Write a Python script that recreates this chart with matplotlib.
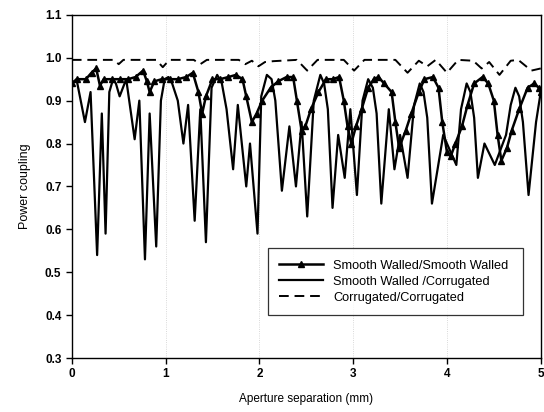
import matplotlib
matplotlib.use('Agg')
import matplotlib.pyplot as plt
import numpy as np

plt.rcParams['font.family'] = ['Liberation Sans', 'DejaVu Sans']

# Smooth Walled / Smooth Walled (triangles)
x_ss = [0.00, 0.06, 0.15, 0.21, 0.26, 0.30, 0.34, 0.43, 0.51, 0.60, 0.68, 0.76,
        0.80, 0.83, 0.88, 0.96, 1.05, 1.13, 1.22, 1.29, 1.35, 1.39, 1.43, 1.50,
        1.58, 1.67, 1.75, 1.82, 1.86, 1.92, 1.97, 2.03, 2.12, 2.20, 2.29, 2.36,
        2.40, 2.45, 2.49, 2.55, 2.63, 2.71, 2.78, 2.85, 2.90, 2.94, 2.98, 3.03,
        3.09, 3.16, 3.22, 3.27, 3.33, 3.41, 3.45, 3.49, 3.56, 3.62, 3.70, 3.76,
        3.85, 3.91, 3.95, 4.00, 4.04, 4.09, 4.16, 4.22, 4.29, 4.38, 4.44, 4.50,
        4.54, 4.58, 4.64, 4.69, 4.77, 4.86, 4.93, 4.98, 5.00]
y_ss = [0.94, 0.95, 0.95, 0.965, 0.975, 0.935, 0.95, 0.95, 0.95, 0.95, 0.955, 0.97,
        0.945, 0.92, 0.945, 0.95, 0.95, 0.95, 0.955, 0.965, 0.92, 0.87, 0.91, 0.95,
        0.95, 0.955, 0.96, 0.95, 0.91, 0.85, 0.87, 0.90, 0.93, 0.945, 0.955, 0.955,
        0.90, 0.83, 0.84, 0.88, 0.92, 0.95, 0.95, 0.955, 0.90, 0.84, 0.80, 0.84,
        0.88, 0.93, 0.95, 0.955, 0.94, 0.92, 0.85, 0.79, 0.83, 0.87, 0.92, 0.95,
        0.955, 0.93, 0.85, 0.78, 0.77, 0.80, 0.84, 0.89, 0.94, 0.955, 0.94, 0.90,
        0.82, 0.76, 0.79, 0.83, 0.88, 0.93, 0.94, 0.93, 0.92]

# Smooth Walled / Corrugated (solid)
x_sc = [0.00, 0.05, 0.14, 0.20, 0.27, 0.32, 0.36, 0.40, 0.44, 0.47, 0.51, 0.58,
        0.67, 0.72, 0.78, 0.83, 0.90, 0.95, 0.99, 1.03, 1.07, 1.13, 1.19, 1.24,
        1.31, 1.37, 1.43, 1.49, 1.55, 1.60, 1.65, 1.72, 1.77, 1.86, 1.90, 1.98,
        2.02, 2.08, 2.13, 2.17, 2.24, 2.32, 2.39, 2.45, 2.51, 2.58, 2.65, 2.69,
        2.73, 2.78, 2.84, 2.91, 2.97, 3.04, 3.10, 3.16, 3.21, 3.25, 3.30, 3.38,
        3.44, 3.50, 3.58, 3.65, 3.71, 3.75, 3.79, 3.84, 3.96, 4.10, 4.15, 4.21,
        4.25, 4.29, 4.33, 4.40, 4.51, 4.63, 4.68, 4.73, 4.77, 4.81, 4.87, 4.95,
        5.00]
y_sc = [0.94, 0.95, 0.85, 0.92, 0.54, 0.87, 0.59, 0.92, 0.95, 0.94, 0.91, 0.95,
        0.81, 0.90, 0.53, 0.87, 0.56, 0.90, 0.95, 0.955, 0.94, 0.90, 0.80, 0.89,
        0.62, 0.88, 0.57, 0.93, 0.96, 0.94, 0.88, 0.74, 0.89, 0.70, 0.80, 0.59,
        0.91, 0.96, 0.95, 0.90, 0.69, 0.84, 0.70, 0.85, 0.63, 0.90, 0.96, 0.94,
        0.88, 0.65, 0.82, 0.72, 0.88, 0.68, 0.90, 0.95, 0.93, 0.87, 0.66, 0.88,
        0.74, 0.82, 0.72, 0.89, 0.94, 0.92, 0.86, 0.66, 0.82, 0.75, 0.88, 0.94,
        0.92, 0.86, 0.72, 0.80, 0.75, 0.82, 0.89, 0.93, 0.91, 0.85, 0.68, 0.85,
        0.92]

# Corrugated / Corrugated (dashed)
x_cc = [0.00, 0.45, 0.50, 0.55, 0.90, 0.97, 1.04, 1.30, 1.37, 1.44, 1.78, 1.85,
        1.92, 1.99, 2.06, 2.15, 2.40, 2.51, 2.62, 2.90, 3.01, 3.12, 3.45, 3.58,
        3.70, 3.79, 3.88, 4.00, 4.12, 4.28, 4.37, 4.45, 4.56, 4.68, 4.76, 4.90, 5.00]
y_cc = [0.995, 0.995, 0.985, 0.995, 0.995, 0.978, 0.995, 0.995, 0.985, 0.995, 0.995, 0.985,
        0.993, 0.98, 0.99, 0.992, 0.995, 0.97, 0.995, 0.995, 0.97, 0.995, 0.995, 0.965,
        0.993, 0.98, 0.995, 0.965, 0.995, 0.993, 0.975, 0.99, 0.96, 0.993, 0.995, 0.97, 0.975]

fig = plt.figure(figsize=(5.44, 4.12), dpi=100)
ax = fig.add_axes([0.132, 0.131, 0.862, 0.833])

ax.plot(x_ss, y_ss, color='black', lw=1.8, marker='^', ms=4,
        label='Smooth Walled/Smooth Walled')
ax.plot(x_sc, y_sc, color='black', lw=1.6, label='Smooth Walled /Corrugated')
ax.plot(x_cc, y_cc, color='black', lw=1.4, ls=(0, (5, 3)),
        label='Corrugated/Corrugated')

ax.set_xlim(0, 5)
ax.set_ylim(0.3, 1.1)
ax.set_xticks([0, 1, 2, 3, 4, 5])
ax.set_yticks(np.arange(0.3, 1.15, 0.1))
ax.set_yticklabels(['0.3', '0.4', '0.5', '0.6', '0.7', '0.8', '0.9', '1.0', '1.1'])
ax.tick_params(direction='out', length=4, width=1, labelsize=8.5)
for lab in ax.get_xticklabels() + ax.get_yticklabels():
    lab.set_fontweight('bold')
ax.xaxis.grid(True, ls=':', color='0.8', lw=0.6)

for s in ax.spines.values():
    s.set_linewidth(1.0)

ax.set_xlabel('Aperture separation (mm)', fontsize=8.5, labelpad=9)
ax.set_ylabel('Power coupling', fontsize=9, labelpad=10)

leg = ax.legend(loc='lower left', bbox_to_anchor=(0.418, 0.125, 0.545, 0.205),
                mode='expand', fontsize=9.2, frameon=True, fancybox=False,
                edgecolor='black', handlelength=3.4, borderpad=0.9,
                labelspacing=0.3, borderaxespad=0)
leg.get_frame().set_linewidth(0.9)

fig.savefig('out.png', dpi=100)
